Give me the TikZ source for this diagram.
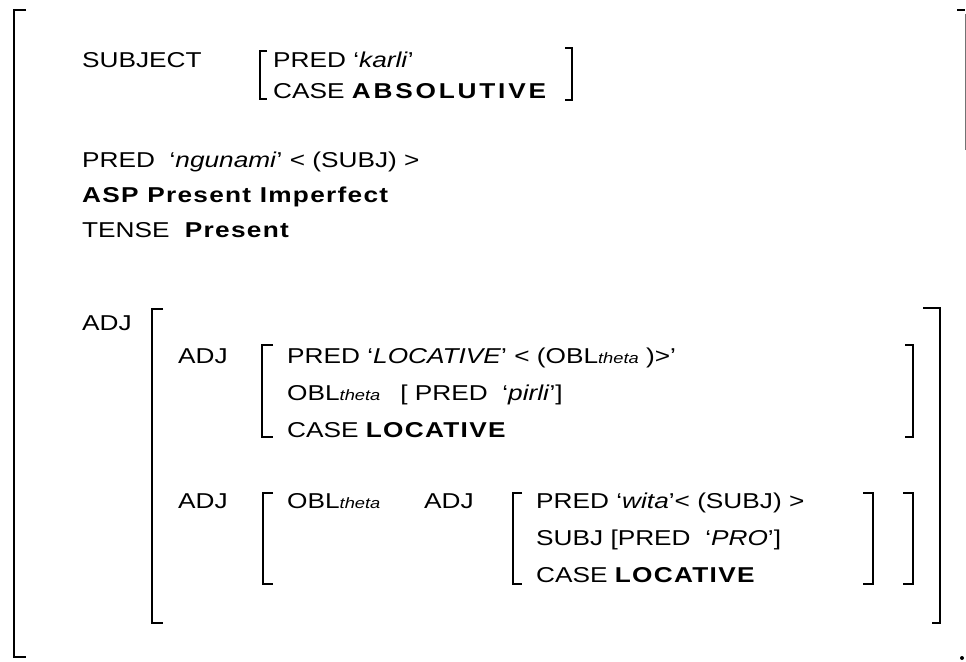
\documentclass[tikz,border=0pt]{standalone}
\usepackage{fontspec}
\setmainfont{Liberation Sans}[FakeStretch=1.22]
\newcommand\bw[1]{{\addfontfeatures{LetterSpace=6}\bfseries #1}}
\newcommand\bww[1]{{\addfontfeatures{LetterSpace=13}\bfseries #1}}
\newcommand\tsub{{\fontsize{15}{17}\selectfont\itshape theta}}
\begin{document}
\begin{tikzpicture}[x=1pt,y=-1pt,
  txt/.style={anchor=base west, inner sep=0pt, font=\fontsize{21.5}{25}\selectfont},
  brk/.style={line width=2pt}]
\useasboundingbox (0,0) rectangle (966,661);
% outer bracket
\draw[line width=2.4pt] (26,10) -- (14,10) -- (14,657) -- (26,657);
\draw[line width=2.4pt] (957,10) -- (965,10);
\draw[line width=1pt, black!55] (965,14) -- (965,150);
\fill (962,658) circle (2);

% subject
\node[txt] (subj) at (82,67) {SUBJECT};
\draw[brk] (267,51) -- (260,51) -- (260,99) -- (267,99);
\node[txt] (kp) at (273,67) {PRED ‘\textit{karli}’};
\node[txt] (ka) at (273,99) {CASE \bww{ABSOLUTIVE}};
\draw[brk] (565,48) -- (572,48) -- (572,100) -- (565,100);

\node[txt] (pred) at (82,167) {PRED\ \ ‘\textit{ngunami}’ < (SUBJ) >};
\node[txt] (asp) at (82,202) {\bw{ASP Present Imperfect}};
\node[txt] (tense) at (82,237) {TENSE\hspace{8pt} \bw{Present}};

% big ADJ
\node[txt] (adj0) at (82,330) {ADJ};
\draw[brk] (163,309) -- (152,309) -- (152,623) -- (163,623);
\draw[brk] (923,308) -- (940,308) -- (940,623) -- (932,623);

% first adjunct
\node[txt] (adj1) at (178,363) {ADJ};
\draw[brk] (273,345) -- (262,345) -- (262,437) -- (273,437);
\node[txt] (lp) at (287,363) {PRED ‘\textit{LOCATIVE}’ < (OBL\tsub\ )>’};
\node[txt] (lo) at (287,400) {OBL\tsub\hspace{20pt}[ PRED\ \ ‘\textit{pirli}’]};
\node[txt] (lc) at (287,437) {CASE \bw{LOCATIVE}};
\draw[brk] (905,345) -- (913,345) -- (913,437) -- (905,437);

% second adjunct
\node[txt] (adj2) at (178,508) {ADJ};
\draw[brk] (273,493) -- (263,493) -- (263,584) -- (273,584);
\node[txt] (ob2) at (287,508) {OBL\tsub};
\node[txt] (adj3) at (424,508) {ADJ};
\draw[brk] (522,493) -- (513,493) -- (513,584) -- (522,584);
\node[txt] (wp) at (536,508) {PRED ‘\textit{wita}’< (SUBJ) >};
\node[txt] (ws) at (536,545) {SUBJ [PRED\ \ ‘\textit{PRO}’]};
\node[txt] (wc) at (536,582) {CASE \bw{LOCATIVE}};
\draw[brk] (863,493) -- (873,493) -- (873,584) -- (863,584);
\draw[brk] (903,493) -- (913,493) -- (913,584) -- (903,584);
\end{tikzpicture}
\end{document}
